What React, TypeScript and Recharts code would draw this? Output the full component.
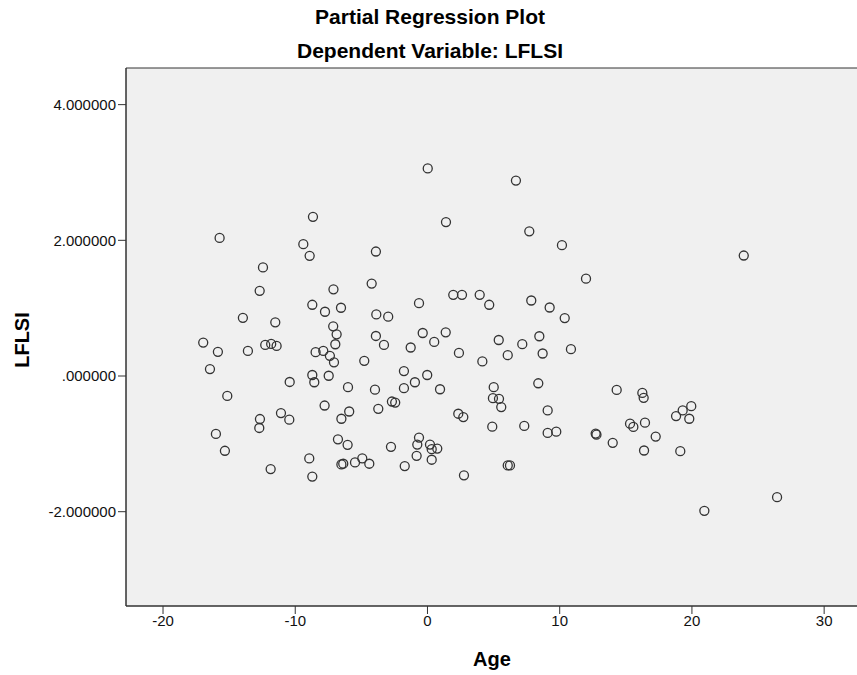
import React from 'react';
import {
    ScatterChart,
    Scatter,
    XAxis,
    YAxis,
    ReferenceArea
} from 'recharts';

// partial regression residuals
const ageResid = [
    -8.66, -15.72, -9.39, -8.91, -12.44, -12.69, -7.11, -8.71, -7.75, -6.54, -13.96, -11.51, -7.13,
    0.02, 1.40, -3.90, -4.22, -3.87, -2.97, -0.64, 1.95, 2.61, 3.95, 4.67, 6.69, 7.70, 10.17, 11.99,
    7.85, 9.24, 10.38, -6.87, -6.97, -16.96, -15.85, -13.58, -12.27, -11.82, -11.41, -8.46, -7.88,
    -7.38, -7.07, -16.45, -8.71, -8.56, -7.47, -10.42, -15.14, -7.78, -11.08, -10.45, -12.67, -12.72,
    -6.51, -6.77, -16.00, -15.32, -8.94, -6.37, -11.86, -8.71, -3.90, -3.29, -0.36, 0.51, 1.38, -1.27,
    -4.78, 2.38, 4.15, 5.39, 6.07, -1.78, -0.02, -0.95, -1.78, 0.95, -6.01, -3.97, -2.69, -2.44, -3.72,
    -5.92, 5.01, 4.95, 5.41, 5.58, 2.33, 2.71, 4.90, -6.04, -2.76, -0.64, -0.77, 0.19, 0.32, 0.74,
    -0.82, 0.32, -5.48, -4.93, -4.40, -1.72, 2.76, 6.07, -6.51, 7.17, 8.46, 8.71, 10.85, 8.38, 9.09,
    14.31, 16.25, 16.35, 18.80, 7.32, 9.09, 9.74, 12.72, 12.78, 14.01, 15.32, 15.57, 16.45, 17.26,
    16.38, 6.24, 23.92, 19.95, 19.30, 19.80, 19.12, 26.44, 20.94
];

const lflsiResid = [
    2.347, 2.035, 1.943, 1.772, 1.600, 1.255, 1.278, 1.050, 0.947, 1.006, 0.857, 0.791, 0.732,
    3.060, 2.269, 1.835, 1.362, 0.908, 0.874, 1.073, 1.196, 1.196, 1.196, 1.050, 2.880, 2.133, 1.928, 1.435,
    1.113, 1.010, 0.854, 0.615, 0.468, 0.493, 0.356, 0.370, 0.458, 0.473, 0.444, 0.351, 0.370,
    0.297, 0.201, 0.102, 0.015, -0.092, 0.004, -0.088, -0.293, -0.435, -0.546, -0.644, -0.634, -0.766,
    -0.630, -0.933, -0.854, -1.102, -1.215, -1.293, -1.372, -1.483, 0.590, 0.458, 0.634, 0.502, 0.644, 0.420,
    0.224, 0.341, 0.215, 0.531, 0.307, 0.073, 0.015, -0.092, -0.180, -0.195, -0.165, -0.201, -0.376, -0.391, -0.483,
    -0.523, -0.165, -0.327, -0.337, -0.458, -0.556, -0.605, -0.747, -1.015, -1.044, -0.908, -1.010, -1.010, -1.079, -1.069,
    -1.176, -1.234, -1.274, -1.215, -1.293, -1.328, -1.464, -1.318, -1.303, 0.469, 0.586, 0.332, 0.395, -0.107, -0.508,
    -0.205, -0.249, -0.322, -0.590, -0.736, -0.839, -0.820, -0.849, -0.864, -0.985, -0.703, -0.751, -0.688, -0.893,
    -1.098, -1.318, 1.776, -0.444, -0.508, -0.630, -1.108, -1.786, -1.987
];

const xTicks = [-20, -10, 0, 10, 20, 30];
const yTicks = [-2, 0, 2, 4];

const X_MIN = -22.8;
const X_MAX = 32.56;
const Y_MIN = -3.39;
const Y_MAX = 4.54;

const FONT = '"Liberation Sans", Arial, sans-serif';

const formatY = (v: number) => {
    const s = v.toFixed(6);
    return s.replace(/^0\./, '.').replace(/^-0\./, '-.');
};

const OpenCircle = (props: any) => {
    const { cx, cy } = props;
    return <circle cx={cx} cy={cy} r={4.5} fill="none" stroke="#333" strokeWidth={1.3} />;
};

const App: React.FC = () => {
    const data = ageResid.map((x, i) => ({ x, y: lflsiResid[i] }));

    return (
        <div style={{ position: 'absolute', left: 0, top: 0, width: 857, height: 675, overflow: 'hidden', background: '#fff', fontFamily: FONT }}>
            <div style={{ position: 'absolute', top: 5, left: 0, width: 860, textAlign: 'center', fontSize: 21, fontWeight: 'bold', lineHeight: '24px' }}>
                Partial Regression Plot
            </div>
            <div style={{ position: 'absolute', top: 39, left: 0, width: 860, textAlign: 'center', fontSize: 21, fontWeight: 'bold', lineHeight: '24px' }}>
                Dependent Variable: LFLSI
            </div>
            <div style={{ position: 'absolute', top: 648, left: 392, width: 200, textAlign: 'center', fontSize: 20, fontWeight: 'bold', lineHeight: '22px' }}>
                Age
            </div>
            <div style={{ position: 'absolute', top: 329, left: -78, width: 200, textAlign: 'center', fontSize: 20, fontWeight: 'bold', lineHeight: '22px', transform: 'rotate(-90deg)' }}>
                LFLSI
            </div>

            <div style={{ position: 'absolute', left: 0, top: 0 }}>
                <ScatterChart width={860} height={675} margin={{ top: 68, right: 2, bottom: 0, left: 0 }}>
                    <ReferenceArea
                        x1={X_MIN}
                        x2={X_MAX}
                        y1={Y_MIN}
                        y2={Y_MAX}
                        fill="#f0f0f0"
                        fillOpacity={1}
                        stroke="#333"
                        strokeWidth={1}
                        ifOverflow="visible"
                    />
                    <XAxis
                        type="number"
                        dataKey="x"
                        domain={[X_MIN, X_MAX]}
                        ticks={xTicks}
                        allowDataOverflow
                        height={69}
                        tickSize={8}
                        tickMargin={1}
                        axisLine={{ stroke: '#333' }}
                        tickLine={{ stroke: '#333' }}
                        tick={{ fill: '#111', fontSize: 15, fontFamily: FONT }}
                    />
                    <YAxis
                        type="number"
                        dataKey="y"
                        domain={[Y_MIN, Y_MAX]}
                        ticks={yTicks}
                        allowDataOverflow
                        width={126}
                        tickSize={8}
                        tickMargin={2}
                        tickFormatter={formatY}
                        axisLine={{ stroke: '#333' }}
                        tickLine={{ stroke: '#333' }}
                        tick={{ fill: '#111', fontSize: 15, fontFamily: FONT }}
                    />
                    <Scatter data={data} shape={<OpenCircle />} isAnimationActive={false} />
                </ScatterChart>
            </div>
        </div>
    );
};

export default App;
